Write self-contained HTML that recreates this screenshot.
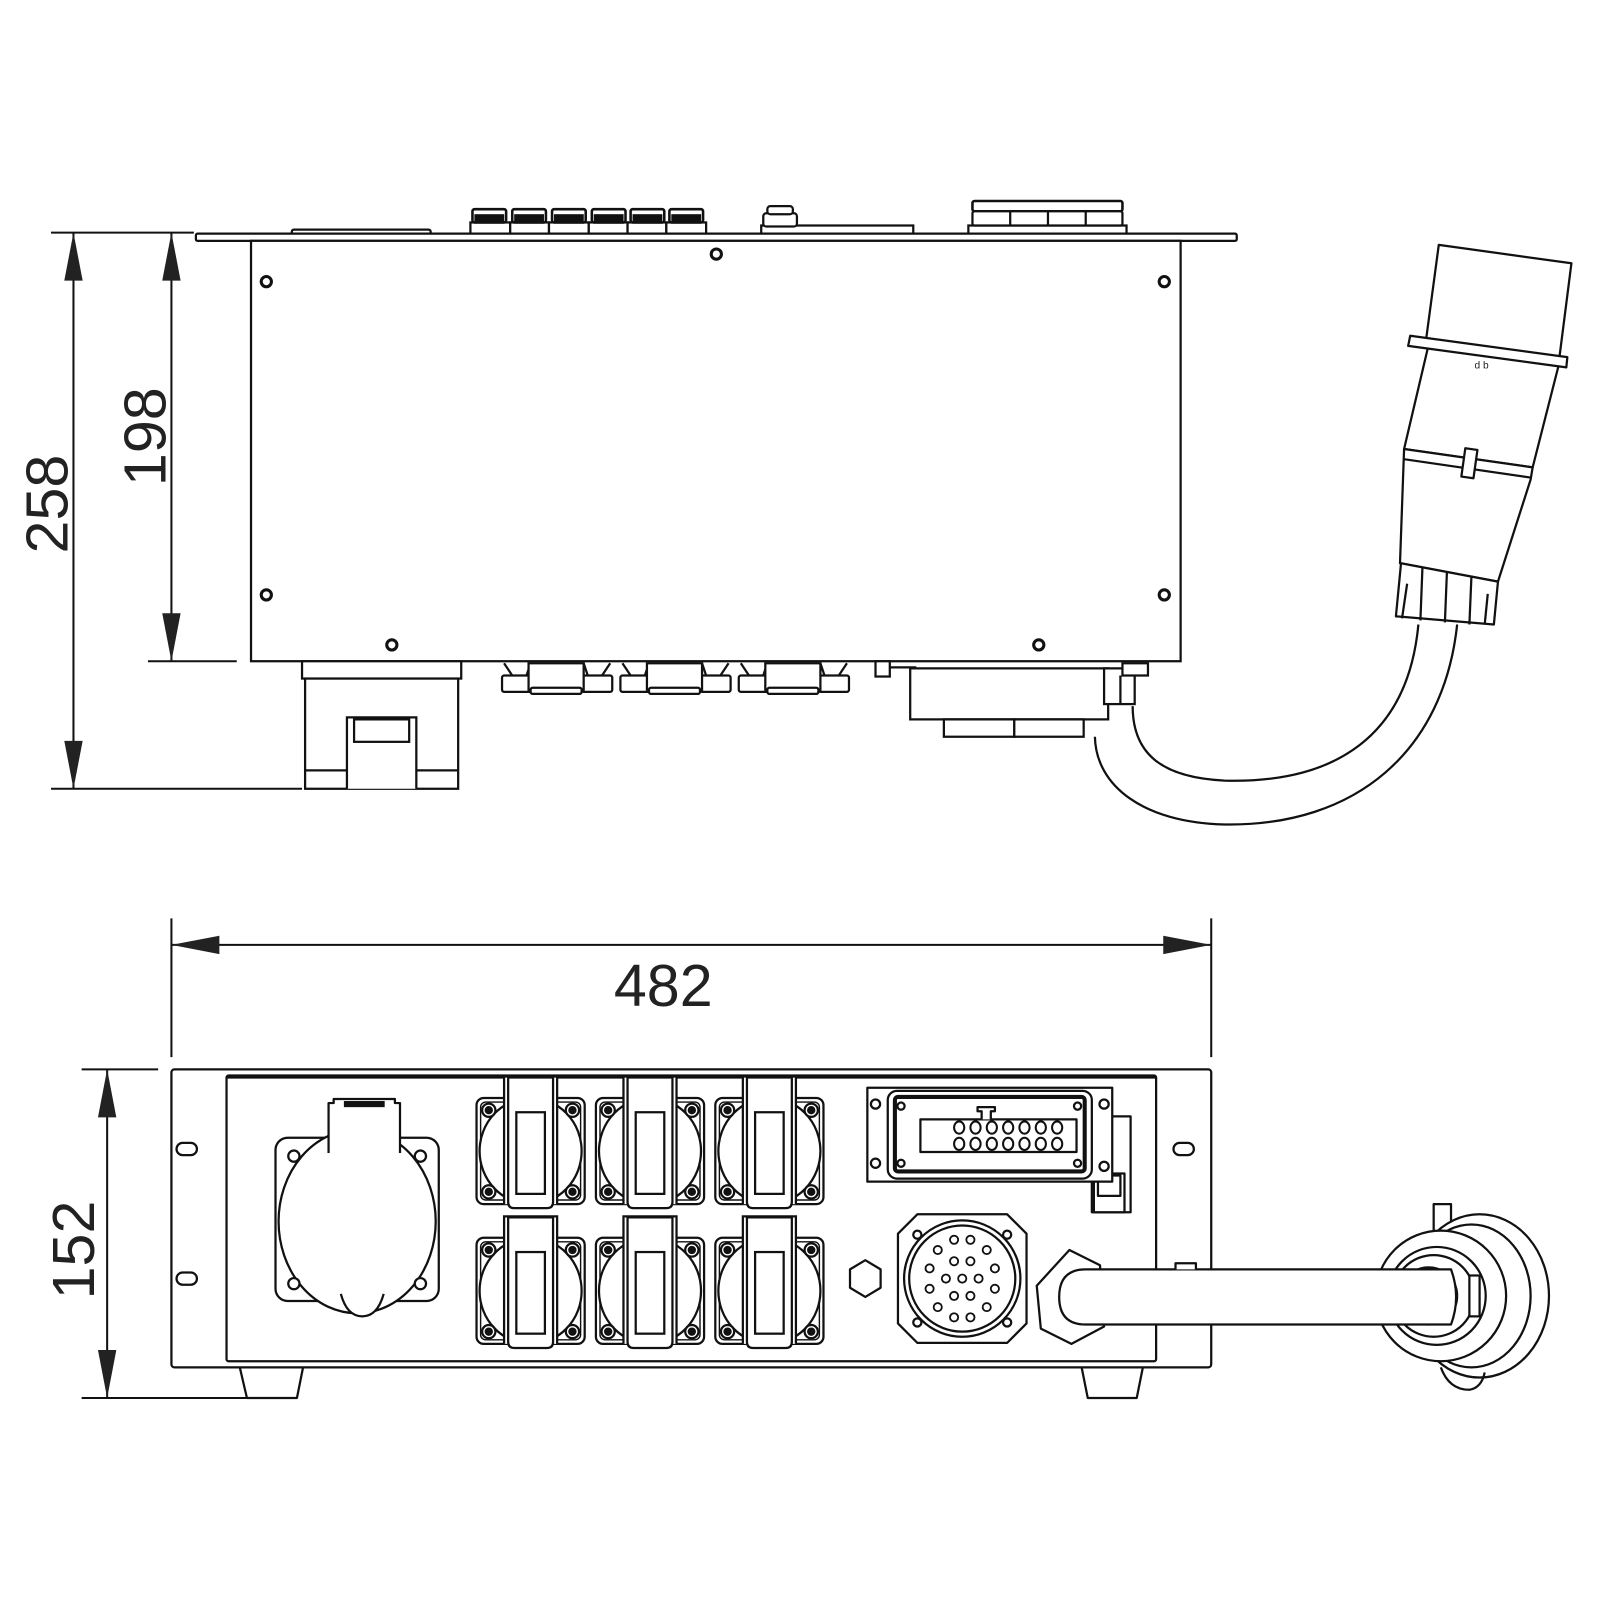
<!DOCTYPE html>
<html><head><meta charset="utf-8"><style>
html,body{margin:0;padding:0;background:#fff}
svg{display:block}
text{font-family:"Liberation Sans",Arial,sans-serif;fill:#222}
</style></head><body>
<svg width="1600" height="1600" viewBox="0 0 1568 1568" xmlns="http://www.w3.org/2000/svg">
<defs>
<g id="scr"><circle r="5" fill="#fff" stroke="#111" stroke-width="3"/></g>
<g id="sock" fill="#fff" stroke="#111" stroke-width="2.2">
 <rect x="-53" y="-52" width="106" height="104" rx="7"/>
 <rect x="-49" y="-48" width="98" height="96" rx="5" fill="none" stroke-width="1.4"/>
 <ellipse rx="50" ry="52"/>
 <circle cx="-41" cy="-40" r="6.5"/><circle cx="-41" cy="-40" r="3" fill="#111"/>
 <circle cx="41" cy="-40" r="6.5"/><circle cx="41" cy="-40" r="3" fill="#111"/>
 <circle cx="-41" cy="40" r="6.5"/><circle cx="-41" cy="40" r="3" fill="#111"/>
 <circle cx="41" cy="40" r="6.5"/><circle cx="41" cy="40" r="3" fill="#111"/>
 <path d="M-26,52 V-73 H26 V52"/>
 <path d="M-22,-72 V50 Q-22,56 -16,56 H16 Q22,56 22,50 V-72 Z"/>
 <rect x="-14" y="-38" width="28" height="80"/>
</g>
</defs>

<g fill="none" stroke="#111" stroke-width="2.2">
<!-- ===== TOP VIEW ===== -->
<!-- dimension lines -->
<line x1="50" y1="228" x2="190" y2="228" stroke-width="2"/>
<line x1="50" y1="773" x2="296" y2="773" stroke-width="2"/>
<line x1="145" y1="648" x2="232" y2="648" stroke-width="2"/>
<line x1="72" y1="228" x2="72" y2="773" stroke-width="2"/>
<line x1="168" y1="228" x2="168" y2="648" stroke-width="2"/>
</g>
<g fill="#222">
<polygon points="72,228 63,275 81,275"/><polygon points="72,773 63,726 81,726"/>
<polygon points="168,228 159,275 177,275"/><polygon points="168,648 159,601 177,601"/>
</g>
<text x="0" y="0" font-size="58" text-anchor="middle" transform="translate(66,494) rotate(-90)">258</text>
<text x="0" y="0" font-size="58" text-anchor="middle" transform="translate(162,428) rotate(-90)">198</text>

<g fill="#fff" stroke="#111" stroke-width="2.2">
<!-- top components -->
<rect x="286" y="225" width="136" height="7" rx="2"/>
<rect x="461" y="218" width="39" height="14"/><rect x="500" y="218" width="38" height="14"/><rect x="538" y="218" width="39" height="14"/><rect x="577" y="218" width="38" height="14"/><rect x="615" y="218" width="38" height="14"/><rect x="653" y="218" width="39" height="14"/>
<g stroke-width="2.5">
<rect x="463" y="205" width="33" height="13" rx="2"/><rect x="502" y="205" width="33" height="13" rx="2"/><rect x="541" y="205" width="33" height="13" rx="2"/><rect x="580" y="205" width="33" height="13" rx="2"/><rect x="618" y="205" width="33" height="13" rx="2"/><rect x="656" y="205" width="33" height="13" rx="2"/>
</g>
<g fill="#111"><rect x="466" y="211" width="27" height="7"/><rect x="505" y="211" width="27" height="7"/><rect x="544" y="211" width="27" height="7"/><rect x="583" y="211" width="27" height="7"/><rect x="621" y="211" width="27" height="7"/><rect x="659" y="211" width="27" height="7"/></g>
<rect x="746" y="221" width="149" height="11"/>
<rect x="748" y="209" width="33" height="13" rx="3"/>
<rect x="752" y="202" width="25" height="8" rx="3"/>
<rect x="949" y="221" width="155" height="11"/>
<rect x="953" y="197" width="147" height="10" rx="2" stroke-width="2.5"/>
<rect x="953" y="207" width="147" height="14" rx="2"/>
<line x1="990" y1="207" x2="990" y2="221"/><line x1="1027" y1="207" x2="1027" y2="221"/><line x1="1064" y1="207" x2="1064" y2="221"/>
<!-- flange -->
<rect x="192" y="229" width="1020" height="7" rx="1.5"/>
<!-- body -->
<rect x="246" y="236" width="911" height="412"/>
<!-- bottom left block -->
<rect x="296" y="648" width="156" height="17"/>
<rect x="299" y="665" width="150" height="108"/>
<path d="M340,773 V703 H408 V773"/>
<rect x="347" y="705" width="54" height="22"/>
<path d="M299,755 H340 M408,755 H449"/>
<!-- D connectors -->
<g id="dc"><rect x="492" y="662" width="30" height="16" rx="2"/><rect x="570" y="662" width="30" height="16" rx="2"/><path d="M494,650 L502,662 M520,650 L516,662 M572,650 L576,662 M598,650 L590,662"/><rect x="518" y="650" width="54" height="26"/><rect x="520" y="674" width="50" height="6" rx="2"/></g>
<use href="#dc" x="116"/><use href="#dc" x="232"/>
<!-- right bottom -->
<rect x="858" y="648" width="14" height="15"/>
<path d="M872,654 H898"/>
<rect x="892" y="655" width="194" height="50"/>
<rect x="925" y="705" width="69" height="17"/><rect x="994" y="705" width="68" height="17"/>
<rect x="1082" y="655" width="30" height="35"/>
<rect x="1100" y="650" width="25" height="12"/>
<line x1="1098" y1="662" x2="1098" y2="690"/>
</g>
<g fill="#111"><use href="#scr" x="261" y="276"/><use href="#scr" x="702" y="249"/><use href="#scr" x="1141" y="276"/><use href="#scr" x="261" y="583"/><use href="#scr" x="1141" y="583"/><use href="#scr" x="384" y="632"/><use href="#scr" x="1018" y="632"/></g>

<!-- cable + plug -->
<g fill="none" stroke="#111" stroke-width="2.2">
<path d="M1390,612 C1380,720 1310,768 1200,765 C1140,762 1110,740 1110,692"/>
<path d="M1428,612 C1415,735 1330,810 1200,808 C1120,806 1074,770 1073,722"/>
</g>
<g fill="#fff" stroke="#111" stroke-width="2.2" stroke-linejoin="round">
<polygon points="1410,240 1540,258 1528,352 1397,337"/>
<polygon points="1400,338 1528,356 1502,458 1376,440"/>
<polygon points="1376,440 1502,458 1500,470 1468,570 1372,552"/>
<line x1="1376" y1="450" x2="1500" y2="468"/>
<rect x="1434" y="440" width="12" height="28" transform="rotate(8 1440 454)"/>
<polygon points="1382,329 1536,350 1535,360 1380,339"/>
<polygon points="1373,552 1468,570 1464,612 1368,604"/>
<line x1="1394" y1="556" x2="1392" y2="608"/><line x1="1418" y1="560" x2="1416" y2="610"/><line x1="1442" y1="565" x2="1440" y2="612"/>
<line x1="1379" y1="572" x2="1374" y2="606"/><line x1="1458" y1="582" x2="1455" y2="612"/>
</g>
<text x="1452" y="361" font-size="10" text-anchor="middle">d b</text>

<!-- ===== FRONT VIEW ===== -->
<g fill="none" stroke="#111" stroke-width="2">
<line x1="168" y1="900" x2="168" y2="1036"/>
<line x1="1187" y1="900" x2="1187" y2="1036"/>
<line x1="168" y1="926" x2="1187" y2="926"/>
<line x1="80" y1="1048" x2="155" y2="1048"/>
<line x1="80" y1="1370" x2="248" y2="1370"/>
<line x1="105" y1="1048" x2="105" y2="1370"/>
</g>
<g fill="#222">
<polygon points="168,926 215,917 215,935"/><polygon points="1187,926 1140,917 1140,935"/>
<polygon points="105,1048 96,1095 114,1095"/><polygon points="105,1370 96,1323 114,1323"/>
</g>
<text x="650" y="986" font-size="58" text-anchor="middle">482</text>
<text x="0" y="0" font-size="58" text-anchor="middle" transform="translate(92,1225) rotate(-90)">152</text>

<g fill="#fff" stroke="#111" stroke-width="2.2" stroke-linejoin="round">
<!-- feet -->
<polygon points="235,1340 297,1340 291,1370 242,1370"/>
<polygon points="1060,1340 1120,1340 1114,1370 1066,1370"/>
<rect x="168" y="1048" width="1019" height="292" rx="3"/>
<rect x="222" y="1054" width="911" height="280" rx="2"/>
<line x1="223" y1="1055" x2="1132" y2="1055" stroke-width="4"/>
<rect x="173" y="1120" width="20" height="12" rx="6"/>
<rect x="173" y="1247" width="20" height="12" rx="6"/>
<rect x="1150" y="1120" width="20" height="12" rx="6"/>
<!-- big socket -->
<rect x="270" y="1115" width="160" height="160" rx="12"/>
<ellipse cx="350" cy="1197" rx="77" ry="90"/>
<path d="M334,1268 Q340,1290 355,1290 Q370,1290 376,1268" />
<rect x="322" y="1075" width="70" height="50" stroke="none"/>
<path d="M322,1130 V1081 H327 V1077 H387 V1081 H392 V1130"/>
<rect x="337" y="1079" width="40" height="6" fill="#111" stroke="none"/>
<circle cx="288" cy="1133" r="5.5"/><circle cx="412" cy="1133" r="5.5"/><circle cx="288" cy="1258" r="5.5"/><circle cx="412" cy="1258" r="5.5"/>
</g>
<use href="#sock" x="520" y="1128"/><use href="#sock" x="637" y="1128"/><use href="#sock" x="754" y="1128"/>
<use href="#sock" x="520" y="1265"/><use href="#sock" x="637" y="1265"/><use href="#sock" x="754" y="1265"/>

<g fill="#fff" stroke="#111" stroke-width="2.2" stroke-linejoin="round">
<!-- hex -->
<polygon points="848,1235 863,1244 863,1262 848,1271 833,1262 833,1244"/>
<!-- multipin -->
<polygon points="899,1190 987,1190 1006,1209 1006,1297 987,1316 899,1316 880,1297 880,1209"/>
<circle cx="943" cy="1253" r="57"/><circle cx="943" cy="1253" r="52"/>
<g stroke-width="1.8">
<circle cx="935" cy="1215" r="4"/><circle cx="951" cy="1215" r="4"/><circle cx="919" cy="1225" r="4"/><circle cx="967" cy="1225" r="4"/><circle cx="935" cy="1236" r="4"/><circle cx="951" cy="1236" r="4"/><circle cx="911" cy="1243" r="4"/><circle cx="975" cy="1243" r="4"/><circle cx="927" cy="1253" r="4"/><circle cx="943" cy="1253" r="4"/><circle cx="959" cy="1253" r="4"/><circle cx="911" cy="1263" r="4"/><circle cx="975" cy="1263" r="4"/><circle cx="935" cy="1270" r="4"/><circle cx="951" cy="1270" r="4"/><circle cx="919" cy="1281" r="4"/><circle cx="967" cy="1281" r="4"/><circle cx="935" cy="1291" r="4"/><circle cx="951" cy="1291" r="4"/>
</g>
<circle cx="899" cy="1210" r="4"/><circle cx="987" cy="1210" r="4"/><circle cx="899" cy="1296" r="4"/><circle cx="987" cy="1296" r="4"/>
<!-- multi connector -->
<rect x="1070" y="1094" width="38" height="94"/>
<rect x="1072" y="1150" width="30" height="38"/><rect x="1076" y="1152" width="22" height="20"/>
<rect x="850" y="1066" width="240" height="92"/>
<rect x="870" y="1069" width="200" height="86" rx="9"/>
<rect x="877" y="1075" width="186" height="73" rx="3" stroke-width="4"/>
<rect x="902" y="1097" width="153" height="32"/>
<path d="M962,1097 V1089 H958 V1085 H975 V1089 H971 V1097"/>
<circle cx="858" cy="1082" r="4.5"/><circle cx="1082" cy="1082" r="4.5"/><circle cx="858" cy="1140" r="4.5"/><circle cx="1082" cy="1143" r="4.5"/>
<circle cx="883" cy="1084" r="3.5"/><circle cx="1056" cy="1084" r="3.5"/><circle cx="883" cy="1140" r="3.5"/><circle cx="1056" cy="1140" r="3.5"/>
<g stroke-width="2">
<ellipse cx="940" cy="1105" rx="5" ry="6"/><ellipse cx="956" cy="1105" rx="5" ry="6"/><ellipse cx="972" cy="1105" rx="5" ry="6"/><ellipse cx="988" cy="1105" rx="5" ry="6"/><ellipse cx="1004" cy="1105" rx="5" ry="6"/><ellipse cx="1020" cy="1105" rx="5" ry="6"/><ellipse cx="1036" cy="1105" rx="5" ry="6"/>
<ellipse cx="940" cy="1121" rx="5" ry="6"/><ellipse cx="956" cy="1121" rx="5" ry="6"/><ellipse cx="972" cy="1121" rx="5" ry="6"/><ellipse cx="988" cy="1121" rx="5" ry="6"/><ellipse cx="1004" cy="1121" rx="5" ry="6"/><ellipse cx="1020" cy="1121" rx="5" ry="6"/><ellipse cx="1036" cy="1121" rx="5" ry="6"/>
</g>
<!-- gland -->
<polygon points="1048,1225 1078,1240 1082,1300 1050,1317 1020,1302 1016,1260"/>
<!-- plug right -->
<rect x="1405" y="1180" width="17" height="28"/>
<ellipse cx="1450" cy="1270" rx="68" ry="80"/>
<ellipse cx="1442" cy="1270" rx="58" ry="70"/>
<circle cx="1412" cy="1270" r="64"/>
<path d="M1412,1340 Q1420,1362 1440,1362 Q1452,1360 1455,1345" fill="none"/>
<circle cx="1408" cy="1270" r="48"/>
<circle cx="1405" cy="1270" r="40"/>
<circle cx="1400" cy="1270" r="28"/>
<rect x="1440" y="1250" width="10" height="40"/>
<!-- cable -->
<path d="M1064,1244 H1422 Q1432,1271 1422,1298 H1064 Q1038,1298 1038,1271 Q1038,1244 1064,1244 Z"/>
<path d="M1152,1244 V1238 H1172 V1244"/>
</g>
</svg>
</body></html>
